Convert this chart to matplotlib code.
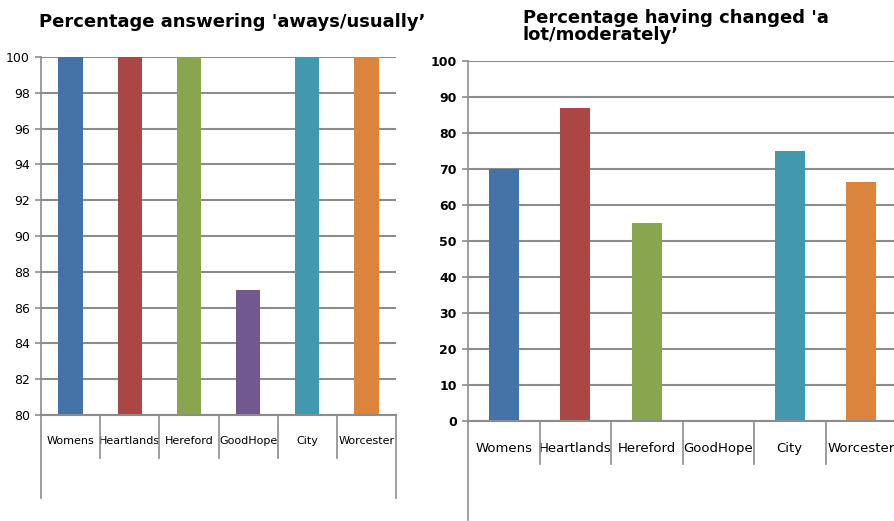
import matplotlib
matplotlib.use("Agg")
import matplotlib.pyplot as plt
import matplotlib.transforms as mtransforms
from matplotlib.lines import Line2D

categories = ["Womens", "Heartlands", "Hereford", "GoodHope", "City", "Worcester"]
always_usually = [100, 100, 100, 87, 100, 100]
changed_lot_moderately = [70, 87, 55, 0, 75, 66.4]
left_yticks = [80, 82, 84, 86, 88, 90, 92, 94, 96, 98, 100]
right_yticks = [0, 10, 20, 30, 40, 50, 60, 70, 80, 90, 100]
colors = ["#4572A7", "#AA4643", "#89A54E", "#71588F", "#4198AF", "#DB843D"]

W, H = 895, 521
fig = plt.figure(figsize=(W / 100, H / 100), dpi=100)
narrow = ["Liberation Sans Narrow", "DejaVu Sans"]
title_font = ["DejaVu Sans"]
grid_c = "#8c8c8c"


def ax_rect(x0, x1, ytop, ybot):
    return [x0 / W, (H - ybot) / H, (x1 - x0) / W, (ybot - ytop) / H]


def style(ax, ylim, yticks, sep_len, outer_len, right_line, tick_fs, tick_w, xl_fs, xl_pad):
    ax.set_ylim(*ylim)
    ax.set_xlim(-0.5, len(categories) - 0.5)
    ax.set_yticks(yticks)
    ax.yaxis.grid(True, color=grid_c, linewidth=1.5)
    ax.set_axisbelow(True)
    for s in ["top", "right"]:
        ax.spines[s].set_visible(False)
    ax.spines["left"].set_color(grid_c)
    ax.spines["bottom"].set_color(grid_c)
    ax.spines["left"].set_linewidth(1.2)
    ax.spines["bottom"].set_linewidth(1.5)
    ax.tick_params(axis="y", length=4, color=grid_c, width=1.2, pad=4)
    for lab in ax.get_yticklabels():
        lab.set_family(narrow)
        lab.set_fontsize(tick_fs)
        lab.set_fontweight(tick_w)
    ax.set_xticks(range(len(categories)))
    ax.set_xticklabels(categories, family=narrow, fontsize=xl_fs)
    ax.tick_params(axis="x", length=0, pad=xl_pad)
    trans = mtransforms.blended_transform_factory(ax.transData, ax.transAxes)
    for i in range(1, len(categories)):
        ax.add_line(Line2D([i - 0.5, i - 0.5], [0, -sep_len], transform=trans,
                           color=grid_c, linewidth=1.2, clip_on=False))
    ax.add_line(Line2D([0, 0], [0, -outer_len], transform=ax.transAxes,
                       color=grid_c, linewidth=1.2, clip_on=False))
    if right_line:
        ax.add_line(Line2D([1, 1], [0, -outer_len], transform=ax.transAxes,
                           color=grid_c, linewidth=1.2, clip_on=False))


# Left chart
ax1 = fig.add_axes(ax_rect(41, 396, 57, 415))
ax1.bar(range(len(categories)), always_usually, width=0.41, color=colors)
style(ax1, (80, 100), left_yticks, 43 / 358, 83 / 358, True, 9, "normal", 8, 15)
fig.text(39 / W, 1 - 26.7 / H, "Percentage answering 'aways/usually\u2019",
         fontsize=13, fontweight="bold", family=title_font,
         ha="left", va="baseline")

# Right chart
ax2 = fig.add_axes(ax_rect(468, 897, 61, 421))
ax2.bar(range(len(categories)), changed_lot_moderately, width=0.42, color=colors)
style(ax2, (0, 100), right_yticks, 43 / 360, 99 / 360, False, 9, "bold", 9.5, 15)
fig.text(523 / W, 1 - 23.3 / H, "Percentage having changed 'a",
         fontsize=13, fontweight="bold", family=title_font,
         ha="left", va="baseline")
fig.text(523 / W, 1 - 40 / H, "lot/moderately\u2019",
         fontsize=13, fontweight="bold", family=title_font,
         ha="left", va="baseline")

fig.savefig("out.png", dpi=100)
